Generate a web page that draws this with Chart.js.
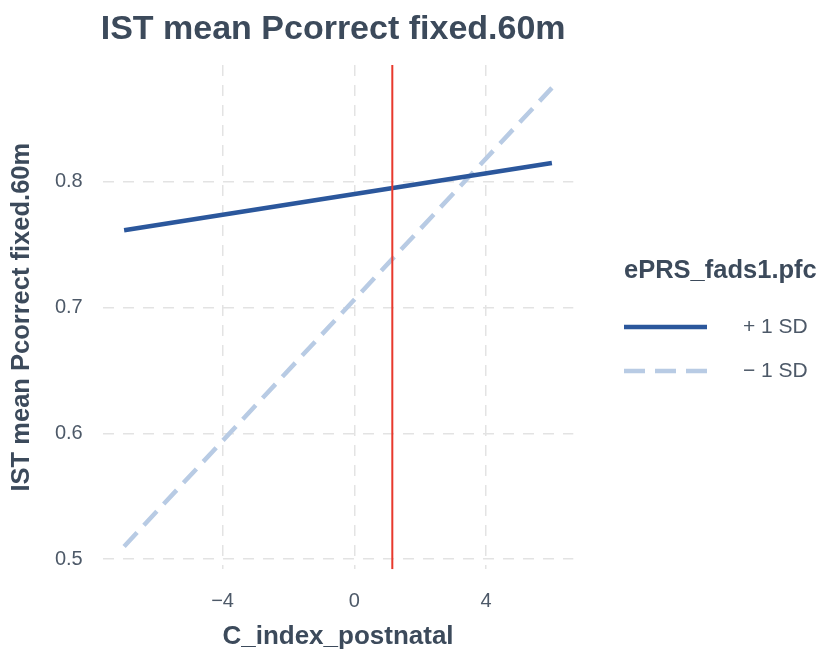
<!DOCTYPE html>
<html>
<head>
<meta charset="utf-8">
<script src="https://cdn.jsdelivr.net/npm/chart.js@4.4.1/dist/chart.umd.min.js"></script>
<style>
  html, body { margin: 0; padding: 0; background: #fff; }
  #wrap { width: 827px; height: 653px; position: relative; }
</style>
</head>
<body>
<div id="wrap"><canvas id="c"></canvas></div>
<script>
// ===== data =====
const TITLE = 'IST mean Pcorrect fixed.60m';
const X_TITLE = 'C_index_postnatal';
const Y_TITLE = 'IST mean Pcorrect fixed.60m';
const LEGEND_TITLE = 'ePRS_fads1.pfc';

const X_VALUES = [-6.99, 6.0];
const PLUS_SD = [0.7615, 0.8151];
const MINUS_SD = [0.510, 0.8748];
const VLINE_X = 1.154;

const X_TICKS = [-4, 0, 4];
const Y_TICKS = [0.5, 0.6, 0.7, 0.8];
const X_MIN = -7.64, X_MAX = 6.65;
const Y_MIN = 0.4918, Y_MAX = 0.8930;

const SERIES = ['+ 1 SD', '\u2212 1 SD'];

const TXT = '#3c4a5b';
const TICK_TXT = '#4d5968';
const GRID = '#e3e3e3';
const FONT = '"Liberation Sans", Arial, Helvetica, sans-serif';

const pts = (xs, ys) => xs.map((x, i) => ({ x, y: ys[i] }));

// title + legend, drawn like ggplot does
const overlay = {
  id: 'overlay',
  afterDraw(chart) {
    const ctx = chart.ctx, a = chart.chartArea;
    ctx.save();
    ctx.fillStyle = TXT;
    ctx.textBaseline = 'middle';
    ctx.textAlign = 'left';
    ctx.font = 'bold 34px ' + FONT;
    ctx.fillText(TITLE, a.left - 2, 30);

    ctx.font = 'bold 25.5px ' + FONT;
    ctx.fillText(LEGEND_TITLE, 624, 271);

    const rows = [327, 371];
    chart.data.datasets.slice(0, 2).forEach((ds, i) => {
      ctx.strokeStyle = ds.borderColor;
      ctx.lineWidth = ds.borderWidth;
      ctx.setLineDash(i === 0 ? [] : [21, 10]);
      ctx.beginPath();
      ctx.moveTo(624, rows[i]);
      ctx.lineTo(707, rows[i]);
      ctx.stroke();
      ctx.setLineDash([]);
      ctx.fillStyle = TICK_TXT;
      ctx.font = '21px ' + FONT;
      ctx.fillText(ds.label, 743, rows[i]);
    });
    ctx.restore();
  }
};

new Chart(document.getElementById('c'), {
  type: 'line',
  data: {
    datasets: [
      {
        label: SERIES[0], data: pts(X_VALUES, PLUS_SD),
        borderColor: '#2b579c', borderWidth: 4.5, pointRadius: 0, fill: false, order: 2
      },
      {
        label: SERIES[1], data: pts(X_VALUES, MINUS_SD),
        borderColor: '#b8cbe4', borderWidth: 4.5, borderDash: [19, 10], pointRadius: 0, fill: false, order: 3
      },
      {
        label: 'vline', data: [{ x: VLINE_X, y: Y_MIN }, { x: VLINE_X, y: Y_MAX }],
        borderColor: '#e8392c', borderWidth: 2, pointRadius: 0, fill: false, order: 1
      }
    ]
  },
  options: {
    responsive: true, maintainAspectRatio: false, animation: false,
    layout: { padding: { top: 65, left: 0, right: 253.7, bottom: 0 } },
    plugins: { legend: { display: false }, tooltip: { enabled: false }, title: { display: false } },
    scales: {
      x: {
        type: 'linear', min: X_MIN, max: X_MAX,
        afterBuildTicks: s => { s.ticks = X_TICKS.map(v => ({ value: v })); },
        afterFit: s => { s.height = 83.7; },
        border: { display: false, dash: [11, 9] },
        grid: { color: GRID, lineWidth: 1.5, drawTicks: false },
        ticks: {
          color: TICK_TXT, font: { family: FONT, size: 20 }, padding: 20, maxRotation: 0,
          callback: v => String(v).replace('-', '\u2212')
        },
        title: { display: true, text: X_TITLE, color: TXT, font: { family: FONT, size: 26, weight: 'bold' }, padding: { top: 0, bottom: 1 } }
      },
      y: {
        type: 'linear', min: Y_MIN, max: Y_MAX,
        afterBuildTicks: s => { s.ticks = Y_TICKS.map(v => ({ value: v })); },
        afterFit: s => { s.width = 102.7; },
        border: { display: false, dash: [11, 9] },
        grid: { color: GRID, lineWidth: 1.5, drawTicks: false },
        ticks: { color: TICK_TXT, font: { family: FONT, size: 20 }, padding: 20, callback: v => v.toFixed(1) },
        title: { display: true, text: Y_TITLE, color: TXT, font: { family: FONT, size: 25.5, weight: 'bold' }, padding: { top: 7, bottom: 0 } }
      }
    }
  },
  plugins: [overlay]
});
</script>
</body>
</html>
